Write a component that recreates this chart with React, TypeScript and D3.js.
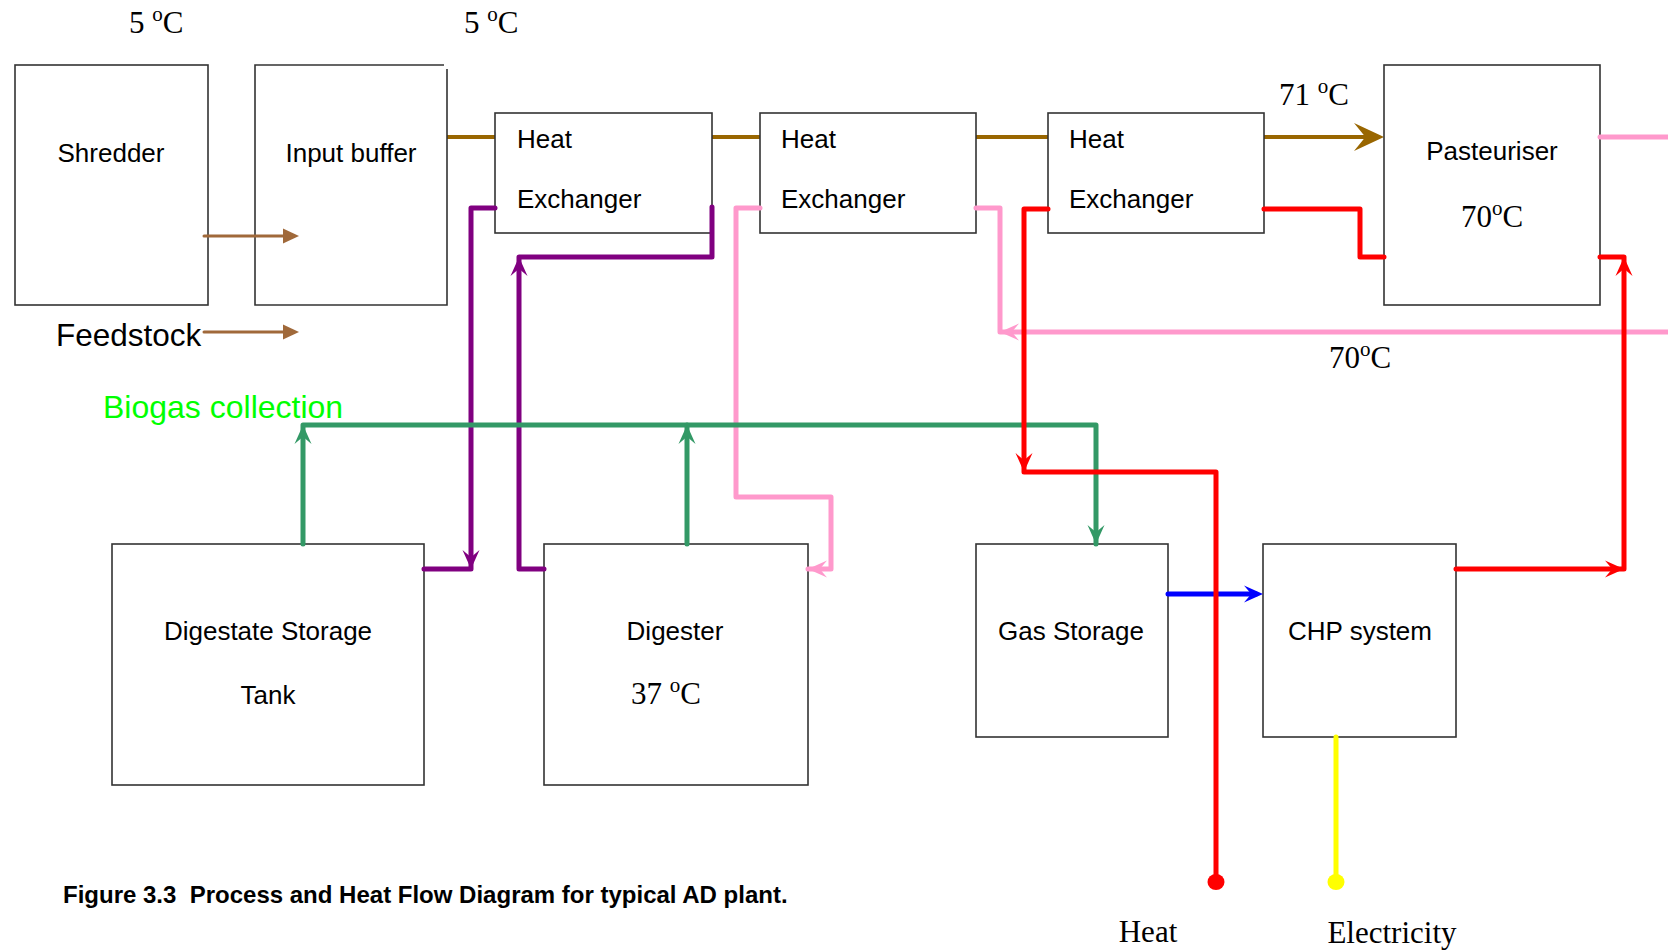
import React from "react";
import * as d3 from "d3";

type Pt = [number, number];

const W = 1668;
const H = 952;

// process boxes [x0, y0, x1, y1]
const boxNames = [
  "shredder", "buffer", "hx1", "hx2", "hx3",
  "pasteuriser", "digestate", "digester", "gas", "chp",
];
const boxCoords: [number, number, number, number][] = [
  [15, 65, 208, 305],
  [255, 65, 447, 305],
  [495, 113, 712, 233],
  [760, 113, 976, 233],
  [1048, 113, 1264, 233],
  [1384, 65, 1600, 305],
  [112, 544, 424, 785],
  [544, 544, 808, 785],
  [976, 544, 1168, 737],
  [1263, 544, 1456, 737],
];

// pipe runs
const purpleRuns: Pt[][] = [
  [[495, 208], [471, 208], [471, 569], [424, 569]],
  [[544, 569], [519, 569], [519, 257], [712, 257], [712, 207]],
];
const pinkRuns: Pt[][] = [
  [[760, 208], [736, 208], [736, 497], [831, 497], [831, 569], [808, 569]],
  [[1668, 332], [1000, 332], [1000, 208], [976, 208]],
  [[1600, 137], [1668, 137]],
];
const greenRuns: Pt[][] = [
  [[303, 544], [303, 425], [1096, 425], [1096, 544]],
  [[687, 544], [687, 425]],
];
const blueRuns: Pt[][] = [[[1168, 594], [1256, 594]]];
const redRuns: Pt[][] = [
  [[1048, 209], [1024, 209], [1024, 472], [1216, 472], [1216, 882]],
  [[1264, 209], [1360, 209], [1360, 257], [1384, 257]],
  [[1456, 569], [1624, 569], [1624, 257], [1600, 257]],
];
const yellowRuns: Pt[][] = [[[1336, 737], [1336, 882]]];
const feedRuns: Pt[][] = [
  [[204, 236], [290, 236]],
  [[204, 332], [290, 332]],
];
const mainRun: Pt[] = [[447, 137], [1372, 137]];

// arrowheads: x, y, direction in degrees (0 = right), colour
const arrowHeads: [number, number, number, string][] = [
  [471, 569, 90, "#800080"],
  [519, 257, -90, "#800080"],
  [808, 569, 180, "#FF99CC"],
  [1000, 332, 180, "#FF99CC"],
  [303, 425, -90, "#339966"],
  [687, 425, -90, "#339966"],
  [1096, 544, 90, "#339966"],
  [1263, 594, 0, "#0000FF"],
  [1024, 472, 90, "#FF0000"],
  [1624, 569, 0, "#FF0000"],
  [1624, 257, -90, "#FF0000"],
];
const endDots: [number, number, string][] = [
  [1216, 882, "#FF0000"],
  [1336, 882, "#FFFF00"],
];

const sansLabels: [string, number, number, string][] = [
  ["Shredder", 111, 162, "middle"],
  ["Input buffer", 351, 162, "middle"],
  ["Heat", 517, 148, "start"],
  ["Exchanger", 517, 208, "start"],
  ["Heat", 781, 148, "start"],
  ["Exchanger", 781, 208, "start"],
  ["Heat", 1069, 148, "start"],
  ["Exchanger", 1069, 208, "start"],
  ["Pasteuriser", 1492, 160, "middle"],
  ["Digestate Storage", 268, 640, "middle"],
  ["Tank", 268, 704, "middle"],
  ["Digester", 675, 640, "middle"],
  ["Gas Storage", 1071, 640, "middle"],
  ["CHP system", 1360, 640, "middle"],
];
// temperatures: text before the superscript "o", x, y, anchor
const tempLabels: [string, number, number, string][] = [
  ["5 ", 129, 33, "start"],
  ["5 ", 464, 33, "start"],
  ["71 ", 1279, 105, "start"],
  ["70", 1492, 227, "middle"],
  ["70", 1360, 368, "middle"],
  ["37 ", 666, 704, "middle"],
];
const serifLabels: [string, number, number][] = [
  ["Heat", 1148, 942],
  ["Electricity", 1392, 943],
];

const line = d3.line<Pt>().x((d) => d[0]).y((d) => d[1]);

const stealth = (L: number, w: number, notch = 0.62) =>
  `M0,0L${-L},${-w}L${-L * notch},0L${-L},${w}Z`;

const Runs = ({ runs, color, width }: { runs: Pt[][]; color: string; width: number }) => (
  <g>
    {runs.map((r, i) => (
      <path
        key={i}
        d={line(r) || ""}
        fill="none"
        stroke={color}
        strokeWidth={width}
        strokeLinejoin="round"
        strokeLinecap="round"
      />
    ))}
  </g>
);

export default function App() {
  const sans = "'Liberation Sans', Arial, sans-serif";
  const serif = "'Liberation Serif', 'Times New Roman', serif";
  return (
    <div style={{ position: "absolute", left: 0, top: 0 }}>
      <svg width={W} height={H} style={{ display: "block", background: "#fff" }}>
        {/* main feed line, under the boxes */}
        <path d={line(mainRun) || ""} stroke="#996600" strokeWidth={4} fill="none" />
        <path d={stealth(30, 14)} transform="translate(1384,137)" fill="#996600" />

        {boxCoords.map((b, i) =>
          boxNames[i] === "buffer" ? (
            <g key={i}>
              <rect x={b[0]} y={b[1]} width={b[2] - b[0]} height={b[3] - b[1]} fill="#fff" />
              <path
                d={`M${b[2] - 3},${b[1]}H${b[0]}V${b[3]}H${b[2]}V${b[1] + 4}`}
                fill="none"
                stroke="#333"
                strokeWidth={1.6}
              />
            </g>
          ) : (
            <rect
              key={i}
              x={b[0]}
              y={b[1]}
              width={b[2] - b[0]}
              height={b[3] - b[1]}
              fill="#fff"
              stroke="#333"
              strokeWidth={1.6}
            />
          )
        )}

        <Runs runs={purpleRuns} color="#800080" width={5} />
        <Runs runs={pinkRuns} color="#FF99CC" width={5} />
        <Runs runs={greenRuns} color="#339966" width={5} />
        <Runs runs={blueRuns} color="#0000FF" width={5} />
        <Runs runs={redRuns} color="#FF0000" width={5} />
        <Runs runs={yellowRuns} color="#FFFF00" width={5} />
        <Runs runs={feedRuns} color="#A0693A" width={3} />

        {feedRuns.map((r, i) => (
          <path
            key={i}
            d={stealth(16, 7.5, 1)}
            transform={`translate(${r[1][0] + 9},${r[1][1]})`}
            fill="#A0693A"
          />
        ))}

        {arrowHeads.map(([x, y, a, c], i) => (
          <path key={i} d={stealth(19, 8.5)} transform={`translate(${x},${y}) rotate(${a})`} fill={c} />
        ))}

        {endDots.map(([x, y, c], i) => (
          <ellipse key={i} cx={x} cy={y} rx={8.5} ry={8} fill={c} />
        ))}

        {sansLabels.map(([t, x, y, a], i) => (
          <text key={i} x={x} y={y} textAnchor={a as any} fontFamily={sans} fontSize={26} fill="#000">
            {t}
          </text>
        ))}

        <text x={56} y={346} fontFamily={sans} fontSize={31.5} fill="#000">
          Feedstock
        </text>
        <text x={103} y={418} fontFamily={sans} fontSize={32} fill="#00FF00">
          Biogas collection
        </text>

        {tempLabels.map(([t, x, y, a], i) => (
          <text
            key={i}
            x={x}
            y={y}
            textAnchor={a as any}
            fontFamily={serif}
            fontSize={31}
            fill="#000"
            style={{ whiteSpace: "pre" }}
          >
            {t}
            <tspan fontSize={21} dy={-12}>o</tspan>
            <tspan dy={12}>C</tspan>
          </text>
        ))}

        {serifLabels.map(([t, x, y], i) => (
          <text key={i} x={x} y={y} textAnchor="middle" fontFamily={serif} fontSize={31} fill="#000">
            {t}
          </text>
        ))}

        <text
          x={63}
          y={903}
          fontFamily={sans}
          fontSize={24}
          fontWeight="bold"
          fill="#000"
          style={{ whiteSpace: "pre" }}
        >
          {"Figure 3.3  Process and Heat Flow Diagram for typical AD plant."}
        </text>
      </svg>
    </div>
  );
}
